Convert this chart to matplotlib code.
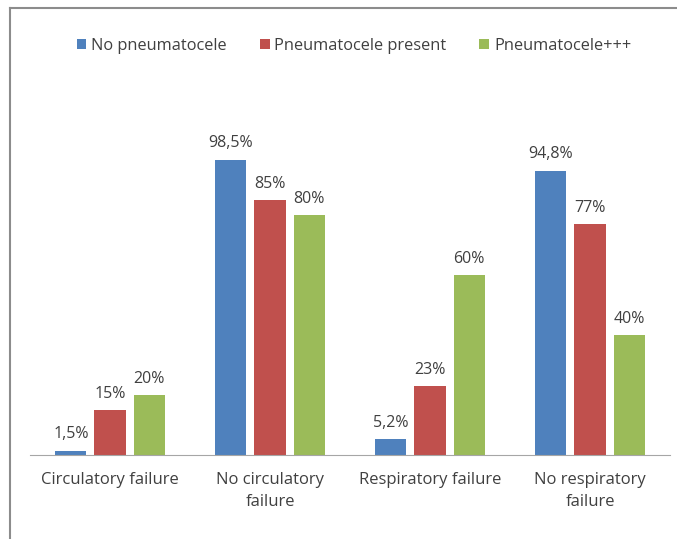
import numpy as np
import matplotlib.pyplot as plt
from matplotlib.lines import Line2D

# data
categories = ['Circulatory failure', 'No circulatory\nfailure',
              'Respiratory failure', 'No respiratory\nfailure']
series_names = ['No pneumatocele', 'Pneumatocele present', 'Pneumatocele+++']
no_pneumatocele = [1.5, 98.5, 5.2, 94.8]
pneumatocele_present = [15, 85, 23, 77]
pneumatocele_plus = [20, 80, 60, 40]
value_labels = [
    ['1,5%', '98,5%', '5,2%', '94,8%'],
    ['15%', '85%', '23%', '77%'],
    ['20%', '80%', '60%', '40%'],
]

colors = ['#4F81BD', '#C0504D', '#9BBB59']
plt.rcParams['font.family'] = ['Open Sans', 'DejaVu Sans']

fig = plt.figure(figsize=(6.77, 5.39), dpi=100)
ax = fig.add_axes([30 / 677, 84 / 539, 640 / 677, 300 / 539])

x = np.arange(len(categories))
width = 0.195
step = 0.245
all_series = [no_pneumatocele, pneumatocele_present, pneumatocele_plus]

for i, (vals, name, col) in enumerate(zip(all_series, series_names, colors)):
    bars = ax.bar(x + (i - 1) * step, vals, width, color=col, label=name)
    for b, txt in zip(bars, value_labels[i]):
        ax.annotate(txt, (b.get_x() + b.get_width() / 2, b.get_height()),
                    xytext=(0, 6), textcoords='offset points',
                    ha='center', va='bottom', fontsize=11.5, color='#404040')

ax.set_xlim(-0.5, 3.5)
ax.set_ylim(0, 100)
ax.set_yticks([])
ax.set_xticks(x)
ax.set_xticklabels(categories, fontsize=12, color='#404040', linespacing=1.55)
ax.tick_params(axis='x', length=0, pad=12)
for s in ['top', 'right', 'left']:
    ax.spines[s].set_visible(False)
ax.spines['bottom'].set_color('#A6A6A6')

fig.legend(loc='center', bbox_to_anchor=(354 / 677, 1 - 46 / 539), ncol=3,
           frameon=False, fontsize=11.8, handlelength=0.6, handleheight=0.6,
           handletextpad=0.3, columnspacing=2.0, labelcolor='#404040')

# outer frame
fig.add_artist(Line2D([10 / 677, 1], [1 - 8 / 539, 1 - 8 / 539],
                      color='#8c8c8c', lw=1.5, transform=fig.transFigure))
fig.add_artist(Line2D([10 / 677, 10 / 677], [0, 1 - 8 / 539],
                      color='#8c8c8c', lw=1.5, transform=fig.transFigure))

fig.savefig('out.png', dpi=100)
